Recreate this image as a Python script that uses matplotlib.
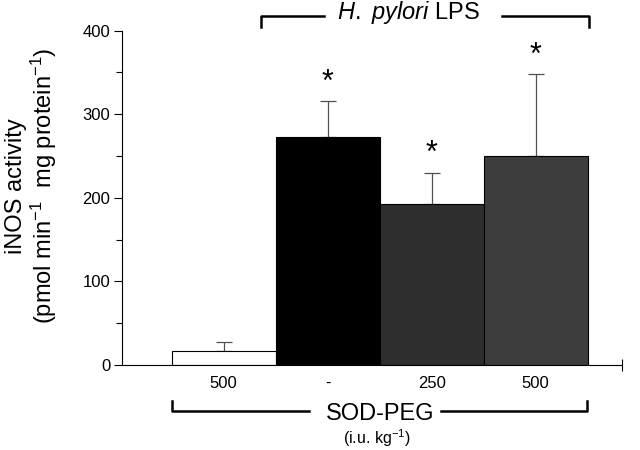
import numpy as np
import matplotlib.pyplot as plt
import matplotlib.transforms as mtransforms

plt.rcParams['font.family'] = ['Liberation Sans', 'DejaVu Sans']
plt.rcParams['mathtext.fontset'] = 'custom'
plt.rcParams['mathtext.rm'] = 'Liberation Sans'
plt.rcParams['mathtext.it'] = 'Liberation Sans:italic'

# data
doses = ['500', '-', '250', '500']
inos = [17, 273, 192, 250]
sem = [10, 43, 38, 98]
stars = [False, True, True, True]
colors = ['white', 'black', '#2e2e2e', '#3d3d3d']

fig = plt.figure(figsize=(6.4, 4.5), dpi=100)
ax = fig.add_axes([0.19, 0.189, 0.782, 0.743])

x = np.arange(len(inos))
ax.bar(x, inos, width=1.0, color=colors, edgecolor='black', linewidth=0.8, zorder=2)
ax.errorbar(x, inos, yerr=[np.zeros(len(sem)), sem], fmt='none', ecolor='#505050',
            elinewidth=0.9, capsize=5.5, capthick=0.9, zorder=1)
for xi, h, e, s in zip(x, inos, sem, stars):
    if s:
        ax.text(xi, h + e + 22, '*', ha='center', va='center', fontsize=22)

ax.set_xlim(-0.98, 3.83)
ax.set_ylim(0, 400)
ax.set_yticks([0, 100, 200, 300, 400])
ax.set_yticks([50, 150, 250, 350], minor=True)
ax.tick_params(axis='y', direction='out', length=6, width=0.8, labelsize=12, pad=2)
ax.tick_params(axis='y', which='minor', direction='out', length=4, width=0.8)
ax.set_xticks(x)
ax.set_xticklabels(doses)
ax.tick_params(axis='x', length=0, labelsize=12, pad=8)
for side in ['top', 'right']:
    ax.spines[side].set_visible(False)
ax.spines['left'].set_linewidth(0.8)
ax.spines['bottom'].set_linewidth(0.8)
ax.plot([3.83], [0], marker='|', markersize=8, color='black', mew=0.8, clip_on=False)

ax.set_ylabel('iNOS activity\n(pmol min$^{-1}$  mg protein$^{-1}$)', fontsize=17,
              linespacing=1.05)
ax.yaxis.set_label_coords(-0.126, 0.535)

# brackets
tr = mtransforms.blended_transform_factory(ax.transData, fig.transFigure)
yb = 1 - 411 / 450
yt = 1 - 401 / 450
ax.plot([-0.5, -0.5, 0.82], [yt, yb, yb], color='black', lw=1.8, transform=tr, clip_on=False)
ax.plot([2.09, 3.49, 3.49], [yb, yb, yt], color='black', lw=1.8, transform=tr, clip_on=False)
fig.text(1.5, 1 - 414 / 450, 'SOD-PEG', transform=tr, ha='center', va='center', fontsize=17)
fig.text(1.47, 1 - 438 / 450, '(i.u. kg$^{-1}$)', transform=tr, ha='center', va='center', fontsize=11.5)

yh = 1 - 16 / 450
yd = 1 - 27 / 450
ax.plot([0.363, 0.363, 0.967], [yd, yh, yh], color='black', lw=1.8, transform=tr, clip_on=False)
ax.plot([2.674, 3.51, 3.51], [yh, yh, yd], color='black', lw=1.8, transform=tr, clip_on=False)
fig.text(1.78, 1 - 12 / 450, '$\\it{H.\\ pylori}$ LPS', transform=tr, ha='center', va='center', fontsize=17)

fig.savefig('out.png', dpi=100)
